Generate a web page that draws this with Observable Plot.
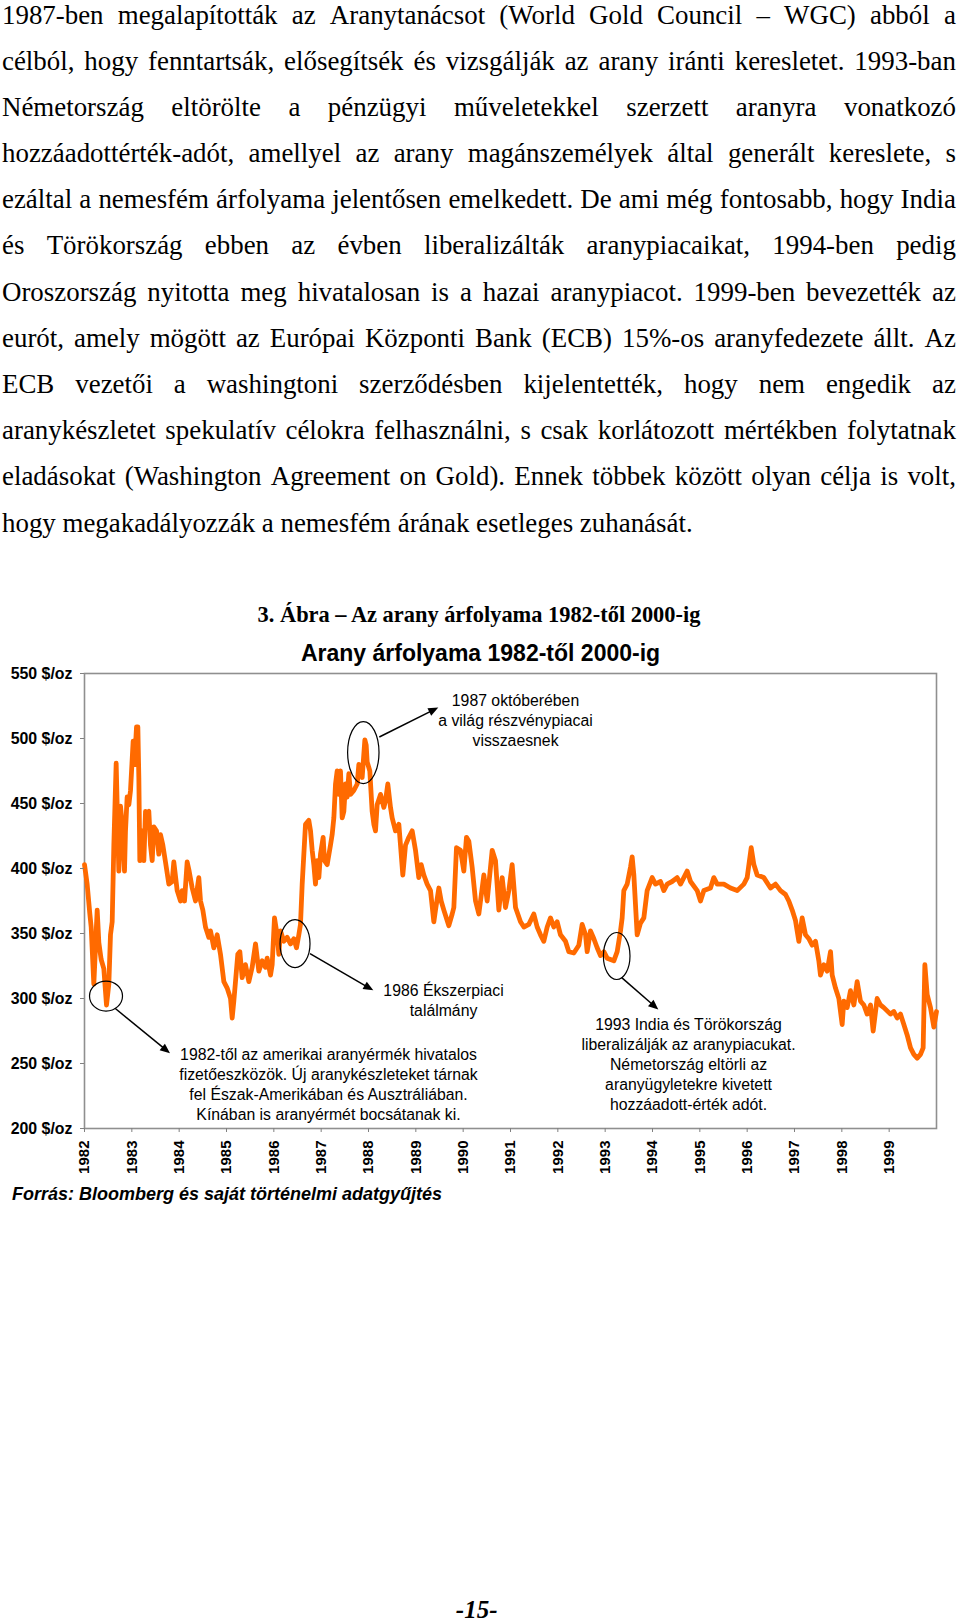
<!DOCTYPE html>
<html>
<head>
<meta charset="utf-8">
<script src="https://cdn.jsdelivr.net/npm/d3@7"></script>
<script src="https://cdn.jsdelivr.net/npm/@observablehq/plot@0.6"></script>
<style>
html, body { margin: 0; padding: 0; background: #fff; }
#page { position: relative; width: 960px; height: 1623px; overflow: hidden; background: #fff; }
#bodytext { position: absolute; left: 2px; width: 954px; top: 0;
  font-family: "Liberation Serif", "Times New Roman", serif; font-size: 26.9px; color: #000; }
.ln { box-sizing: border-box; height: 46.2px; padding-top: 1.5px; line-height: 27px; white-space: nowrap; }
.ln.j { display: flex; justify-content: space-between; align-items: flex-start; }
#chart { position: absolute; left: 0; top: 660px; }
.abs { position: absolute; line-height: 1; white-space: nowrap; color: #000; }
#figtitle { left: 0; width: 958px; top: 603.5px; text-align: center;
  font-family: "Liberation Serif", "Times New Roman", serif; font-weight: bold; font-size: 22.4px; }
#charttitle { left: 0; width: 961px; top: 641.5px; text-align: center;
  font-family: "Liberation Sans", Arial, sans-serif; font-weight: bold; font-size: 23px; }
#caption { left: 12px; top: 1184.8px;
  font-family: "Liberation Sans", Arial, sans-serif; font-weight: bold; font-style: italic; font-size: 18px; }
#pagenum { left: 0; width: 953.4px; top: 1596.8px; text-align: center;
  font-family: "Liberation Serif", "Times New Roman", serif; font-weight: bold; font-style: italic; font-size: 25px; }
</style>
</head>
<body>
<div id="page">
  <div id="chart"></div>
  <div id="bodytext"></div>
  <div id="figtitle" class="abs"></div>
  <div id="charttitle" class="abs"></div>
  <div id="caption" class="abs"></div>
  <div id="pagenum" class="abs"></div>
</div>
<script>
// ---------- texts ----------
const bodyLines = [
  "1987-ben megalapították az Aranytanácsot (World Gold Council – WGC) abból a",
  "célból, hogy fenntartsák, elősegítsék és vizsgálják az arany iránti keresletet. 1993-ban",
  "Németország eltörölte a pénzügyi műveletekkel szerzett aranyra vonatkozó",
  "hozzáadottérték-adót, amellyel az arany magánszemélyek által generált kereslete, s",
  "ezáltal a nemesfém árfolyama jelentősen emelkedett. De ami még fontosabb, hogy India",
  "és Törökország ebben az évben liberalizálták aranypiacaikat, 1994-ben pedig",
  "Oroszország nyitotta meg hivatalosan is a hazai aranypiacot. 1999-ben bevezették az",
  "eurót, amely mögött az Európai Központi Bank (ECB) 15%-os aranyfedezete állt. Az",
  "ECB vezetői a washingtoni szerződésben kijelentették, hogy nem engedik az",
  "aranykészletet spekulatív célokra felhasználni, s csak korlátozott mértékben folytatnak",
  "eladásokat (Washington Agreement on Gold). Ennek többek között olyan célja is volt,",
  "hogy megakadályozzák a nemesfém árának esetleges zuhanását."
];
const figureTitle = "3. Ábra – Az arany árfolyama 1982-től 2000-ig";
const chartTitle = "Arany árfolyama 1982-től 2000-ig";
const sourceNote = "Forrás: Bloomberg és saját történelmi adatgyűjtés";
const pageNumber = "-15-";

// ---------- axis ticks ----------
const xTicks = [1982,1983,1984,1985,1986,1987,1988,1989,1990,1991,1992,1993,1994,1995,1996,1997,1998,1999];
const yTicks = [200,250,300,350,400,450,500,550];
const yUnit = " $/oz";

// ---------- gold price series [year, USD/oz] ----------
const goldSeries = [
[1982.000,403],[1982.056,388],[1982.113,365],[1982.141,355],[1982.197,311],[1982.268,368],[1982.303,343],[1982.352,330],[1982.408,323],[1982.465,295],
[1982.514,311],[1982.549,349],[1982.585,359],[1982.620,418],[1982.669,481],[1982.690,449],[1982.725,398],[1982.761,448],[1982.796,434],[1982.845,398],
[1982.866,429],[1982.901,455],[1982.937,449],[1982.972,460],[1983.028,498],[1983.056,480],[1983.099,509],[1983.127,509],[1983.148,470],[1983.169,406],
[1983.218,429],[1983.254,406],[1983.289,444],[1983.324,443],[1983.359,444],[1983.394,418],[1983.430,406],[1983.465,432],[1983.521,429],[1983.570,411],
[1983.606,426],[1983.655,418],[1983.711,405],[1983.782,388],[1983.852,390],[1983.887,405],[1983.958,383],[1984.028,375],[1984.063,383],[1984.113,375],
[1984.169,405],[1984.211,398],[1984.275,385],[1984.345,375],[1984.415,393],[1984.451,375],[1984.500,368],[1984.556,355],[1984.627,347],[1984.662,352],
[1984.732,339],[1984.803,349],[1984.873,334],[1984.944,313],[1985.014,308],[1985.085,300],[1985.120,285],[1985.155,298],[1985.190,313],[1985.239,334],
[1985.282,336],[1985.331,316],[1985.401,326],[1985.472,313],[1985.542,324],[1985.613,342],[1985.683,321],[1985.754,329],[1985.824,324],[1985.859,331],
[1985.930,318],[1985.965,326],[1986.014,362],[1986.070,349],[1986.106,334],[1986.141,352],[1986.211,344],[1986.282,347],[1986.352,342],[1986.423,346],
[1986.479,339],[1986.528,349],[1986.563,357],[1986.599,388],[1986.669,434],[1986.739,437],[1986.775,429],[1986.810,414],[1986.845,403],[1986.880,388],
[1986.915,406],[1986.951,393],[1986.986,411],[1987.042,424],[1987.070,406],[1987.127,403],[1987.197,418],[1987.232,426],[1987.268,439],[1987.303,465],
[1987.338,475],[1987.373,457],[1987.408,475],[1987.444,439],[1987.479,444],[1987.514,465],[1987.549,455],[1987.585,473],[1987.620,457],[1987.690,460],
[1987.761,465],[1987.796,480],[1987.866,470],[1987.923,499],[1987.951,495],[1987.972,482],[1988.028,475],[1988.077,444],[1988.113,434],[1988.148,429],
[1988.183,449],[1988.254,457],[1988.324,447],[1988.359,452],[1988.408,465],[1988.465,447],[1988.500,439],[1988.570,429],[1988.641,434],[1988.676,418],
[1988.725,395],[1988.782,418],[1988.852,424],[1988.923,429],[1988.993,414],[1989.063,393],[1989.113,403],[1989.169,395],[1989.239,388],[1989.310,383],
[1989.380,359],[1989.415,368],[1989.486,385],[1989.535,375],[1989.592,368],[1989.697,356],[1989.768,365],[1989.803,370],[1989.859,416],[1989.944,414],
[1990.014,398],[1990.070,424],[1990.120,421],[1990.190,401],[1990.261,375],[1990.331,365],[1990.437,395],[1990.507,375],[1990.613,414],[1990.683,406],
[1990.754,368],[1990.824,393],[1990.894,370],[1990.965,383],[1991.035,403],[1991.106,370],[1991.211,359],[1991.282,355],[1991.387,357],[1991.493,365],
[1991.563,355],[1991.634,349],[1991.704,344],[1991.775,355],[1991.845,362],[1991.915,355],[1991.986,359],[1992.056,349],[1992.162,344],[1992.232,336],
[1992.338,335],[1992.444,341],[1992.514,357],[1992.585,349],[1992.620,336],[1992.690,352],[1992.761,346],[1992.831,339],[1992.901,333],[1992.972,336],
[1993.042,331],[1993.183,329],[1993.254,336],[1993.324,352],[1993.359,362],[1993.394,383],[1993.465,388],[1993.535,401],[1993.570,409],[1993.606,395],
[1993.676,349],[1993.746,358],[1993.817,362],[1993.887,383],[1993.993,393],[1994.063,388],[1994.169,390],[1994.239,383],[1994.310,388],[1994.415,390],
[1994.521,393],[1994.592,388],[1994.732,398],[1994.803,390],[1994.944,383],[1995.014,375],[1995.085,383],[1995.225,385],[1995.296,393],[1995.366,388],
[1995.507,388],[1995.648,385],[1995.789,383],[1995.930,388],[1996.000,393],[1996.085,416],[1996.141,403],[1996.211,395],[1996.352,393],[1996.493,385],
[1996.599,388],[1996.704,383],[1996.810,380],[1996.880,375],[1996.951,368],[1997.021,360],[1997.092,344],[1997.162,362],[1997.232,349],[1997.303,346],
[1997.373,341],[1997.444,344],[1997.514,329],[1997.549,318],[1997.620,326],[1997.690,321],[1997.761,336],[1997.796,318],[1997.866,308],[1997.937,300],
[1998.007,280],[1998.042,298],[1998.113,293],[1998.183,306],[1998.254,295],[1998.324,313],[1998.394,298],[1998.465,295],[1998.535,288],[1998.606,295],
[1998.662,275],[1998.746,300],[1998.817,295],[1998.887,293],[1999.028,288],[1999.099,290],[1999.169,285],[1999.239,288],[1999.310,280],[1999.380,272],
[1999.451,262],[1999.521,257],[1999.592,254],[1999.662,257],[1999.718,262],[1999.754,326],[1999.803,303],[1999.873,293],[1999.944,278],[2000.000,290]
];

// ---------- annotations (anchored in data coordinates) ----------
const circledEvents = [
  {year: 1982.465, price: 301.5},
  {year: 1986.458, price: 341.8},
  {year: 1987.901, price: 488.8},
  {year: 1993.254, price: 332.3}
];
const arrowLinks = [
  {year1: 1982.655, price1: 292.1, year2: 1983.817, price2: 257.5},
  {year1: 1986.775, price1: 334.2, year2: 1988.112, price2: 305.9},
  {year1: 1988.239, price1: 500.8, year2: 1989.485, price2: 523.4},
  {year1: 1993.360, price1: 315.7, year2: 1994.133, price2: 291.1}
];
const eventNotes = [
  {year: 1987.155, price: 234.6, text: "1982-től az amerikai aranyérmék hivatalos\nfizetőeszközök. Új aranykészleteket tárnak\nfel Észak-Amerikában és Ausztráliában.\nKínában is aranyérmét bocsátanak ki."},
  {year: 1989.585, price: 299.4, text: "1986 Ékszerpiaci\ntalálmány"},
  {year: 1991.106, price: 514.4, text: "1987 októberében\na világ részvénypiacai\nvisszaesnek"},
  {year: 1994.761, price: 250.0, text: "1993 India és Törökország\nliberalizálják az aranypiacukat.\nNémetország eltörli az\naranyügyletekre kivetett\nhozzáadott-érték adót."}
];

// ---------- body text ----------
const bt = document.getElementById("bodytext");
bodyLines.forEach((line, i) => {
  const div = document.createElement("div");
  div.className = "ln" + (i < bodyLines.length - 1 ? " j" : "");
  if (i < bodyLines.length - 1) {
    line.split(" ").forEach(w => {
      const s = document.createElement("span");
      s.textContent = w;
      div.appendChild(s);
    });
  } else {
    div.textContent = line;
  }
  bt.appendChild(div);
});
document.getElementById("figtitle").textContent = figureTitle;
document.getElementById("charttitle").textContent = chartTitle;
document.getElementById("caption").textContent = sourceNote;
document.getElementById("pagenum").textContent = pageNumber;

// ---------- chart ----------
const series = goldSeries.map(([year, price]) => ({year, price}));
const ellipseRadii = [[16.5, 15], [15, 24], [15.7, 31], [13.3, 23.5]];

function annotationShapes(index, scales) {
  const {x, y} = scales;
  const g = d3.create("svg:g");
  circledEvents.forEach((e, i) => {
    g.append("ellipse")
      .attr("cx", x(e.year)).attr("cy", y(e.price))
      .attr("rx", ellipseRadii[i][0]).attr("ry", ellipseRadii[i][1])
      .attr("fill", "none").attr("stroke", "#000").attr("stroke-width", 1.2);
  });
  arrowLinks.forEach(a => {
    const x1 = x(a.year1), y1 = y(a.price1), x2 = x(a.year2), y2 = y(a.price2);
    const dx = x2 - x1, dy = y2 - y1, len = Math.hypot(dx, dy);
    const ux = dx / len, uy = dy / len;
    const L = 10, W = 4.2;
    const bx = x2 - ux * L, by = y2 - uy * L;
    g.append("line").attr("x1", x1).attr("y1", y1).attr("x2", bx + ux * 2).attr("y2", by + uy * 2)
      .attr("stroke", "#000").attr("stroke-width", 1.5);
    g.append("path")
      .attr("d", `M${x2},${y2}L${bx - uy * W},${by + ux * W}L${bx + uy * W},${by - ux * W}Z`)
      .attr("fill", "#000");
  });
  return g.node();
}

const plot = Plot.plot({
  width: 960,
  height: 518,
  marginTop: 13,
  marginLeft: 84,
  marginRight: 24,
  marginBottom: 50,
  style: {background: "transparent", fontFamily: "'Liberation Sans', Arial, sans-serif", color: "#000", overflow: "visible"},
  x: {domain: [1982, 2000], label: null},
  y: {domain: [200, 550], label: null},
  marks: [
    Plot.frame({stroke: "#8f8f8f", strokeWidth: 1.6}),
    Plot.line(series, {x: "year", y: "price", stroke: "#ff6a00", strokeWidth: 4.8, strokeLinejoin: "round", strokeLinecap: "round"}),
    annotationShapes,
    Plot.text(eventNotes, {x: "year", y: "price", text: "text", textAnchor: "middle", lineAnchor: "middle",
      lineHeight: 1.266, fontSize: 15.8, fill: "#000", fontFamily: "'Liberation Sans', Arial, sans-serif"}),
    Plot.axisY({ticks: yTicks, tickFormat: d => d + yUnit, tickSize: 4, tickPadding: 8, stroke: "#808080",
      fill: "#000", fontSize: 15.9, fontWeight: "bold", label: null}),
    Plot.axisX({ticks: xTicks, tickFormat: d => String(d), tickRotate: -90, tickSize: 4, tickPadding: 8, stroke: "#808080",
      fill: "#000", fontSize: 15, fontWeight: "bold", label: null})
  ]
});
document.getElementById("chart").appendChild(plot);
</script>
</body>
</html>
